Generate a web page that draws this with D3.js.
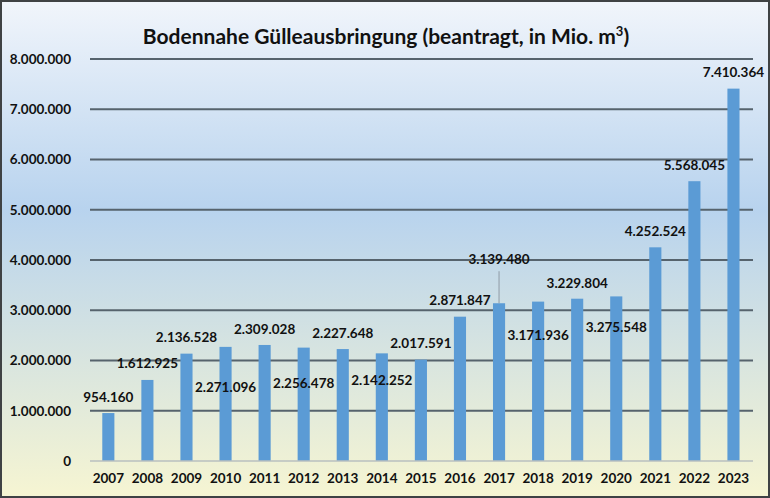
<!DOCTYPE html>
<html>
<head>
<meta charset="utf-8">
<script src="https://cdn.jsdelivr.net/npm/d3@7"></script>
<style>
  html, body { margin: 0; padding: 0; background: #fff; }
  svg { display: block; }
  text { font-family: Lato, "Open Sans", sans-serif; font-weight: bold; fill: #111; }
</style>
</head>
<body>
<div id="chart"></div>
<script>
// ---- data ----
const years = ["2007","2008","2009","2010","2011","2012","2013","2014","2015","2016","2017","2018","2019","2020","2021","2022","2023"];
const values = [954160, 1612925, 2136528, 2271096, 2309028, 2256478, 2227648, 2142252, 2017591, 2871847, 3139480, 3171936, 3229804, 3275548, 4252524, 5568045, 7410364];
const yTicks = [0, 1000000, 2000000, 3000000, 4000000, 5000000, 6000000, 7000000, 8000000];
const titleText = "Bodennahe Gülleausbringung (beantragt, in Mio. m";
const titleSup = "3";

// ---- layout (label offsets in px relative to default above-bar placement) ----
const labelDy = [0, -1, 0, 56, 0, 52, 0, 43, 0, 0, -28, 50, 1, 47, 0, 0, 0];
const leader = [false,false,false,false,false,false,false,false,false,false,true,false,false,false,false,false,false];

const W = 770, H = 498;
const svg = d3.select("#chart").append("svg").attr("width", W).attr("height", H);

const defs = svg.append("defs");
const grad = defs.append("linearGradient").attr("id", "bg").attr("x1", 0).attr("y1", 0).attr("x2", 0).attr("y2", 1);
grad.append("stop").attr("offset", "0%").attr("stop-color", "#f1f5fb");
grad.append("stop").attr("offset", "42%").attr("stop-color", "#b8d3ee");
grad.append("stop").attr("offset", "100%").attr("stop-color", "#f6f5d2");

svg.append("rect").attr("x", 1).attr("y", 1).attr("width", W - 2).attr("height", H - 2)
  .attr("fill", "url(#bg)").attr("stroke", "#3f4244").attr("stroke-width", 2);

const x = d3.scaleBand().domain(years).range([88.8, 753]).paddingInner(0.69).paddingOuter(0.345);
const y = d3.scaleLinear().domain([0, 8000000]).range([461, 59]);

const de = d3.formatLocale({ decimal: ",", thousands: ".", grouping: [3], currency: ["", "€"] });
const fmt = de.format(",d");

// gridlines
svg.append("g").selectAll("line").data(yTicks.filter(d => d > 0)).join("line")
  .attr("x1", 90).attr("x2", 753)
  .attr("y1", d => y(d)).attr("y2", d => y(d))
  .attr("stroke", "#56636d").attr("stroke-width", 1.8);

// y axis labels
const yAxis = d3.axisLeft(y).tickValues(yTicks).tickFormat(fmt).tickSize(0).tickPadding(0);
const ya = svg.append("g").attr("transform", "translate(71,0)").call(yAxis);
ya.select(".domain").remove();
ya.selectAll("text").attr("font-size", 13.5).attr("font-family", "Lato, sans-serif").attr("font-weight", "bold").attr("fill", "#111");

// bars
svg.append("g").selectAll("rect").data(values).join("rect")
  .attr("x", (d, i) => x(years[i]))
  .attr("width", x.bandwidth())
  .attr("y", d => y(d))
  .attr("height", d => y(0) - y(d))
  .attr("fill", "#5b9bd5");

// zero line
svg.append("line").attr("x1", 90).attr("x2", 753).attr("y1", y(0)).attr("y2", y(0))
  .attr("stroke", "#b9bfbf").attr("stroke-width", 1.5);

// x axis labels
const xAxis = d3.axisBottom(x).tickSize(0).tickPadding(0);
const xa = svg.append("g").attr("transform", "translate(0,473)").call(xAxis);
xa.select(".domain").remove();
xa.selectAll("text").attr("font-size", 13.5).attr("font-family", "Lato, sans-serif").attr("font-weight", "bold").attr("fill", "#111").attr("dy", "0.71em");

// leader lines
svg.append("g").selectAll("line").data(values.map((v, i) => ({ v, i })).filter(d => leader[d.i])).join("line")
  .attr("x1", d => x(years[d.i]) + x.bandwidth() / 2)
  .attr("x2", d => x(years[d.i]) + x.bandwidth() / 2)
  .attr("y1", d => y(d.v) - 16 + labelDy[d.i] + 12)
  .attr("y2", d => y(d.v))
  .attr("stroke", "#8f9ba5").attr("stroke-width", 1);

// value labels
svg.append("g").selectAll("text").data(values).join("text")
  .attr("x", (d, i) => x(years[i]) + x.bandwidth() / 2)
  .attr("y", (d, i) => y(d) - 16 + labelDy[i])
  .attr("dy", "0.35em")
  .attr("text-anchor", "middle")
  .attr("font-size", 13.5)
  .text(d => fmt(d));

// title
const t = svg.append("text").attr("x", 386).attr("y", 37).attr("dy", "0.35em")
  .attr("text-anchor", "middle").attr("font-size", 21);
t.append("tspan").text(titleText);
t.append("tspan").attr("font-size", 13).attr("dy", -8).text(titleSup);
t.append("tspan").attr("dy", 8).text(")");
</script>
</body>
</html>
